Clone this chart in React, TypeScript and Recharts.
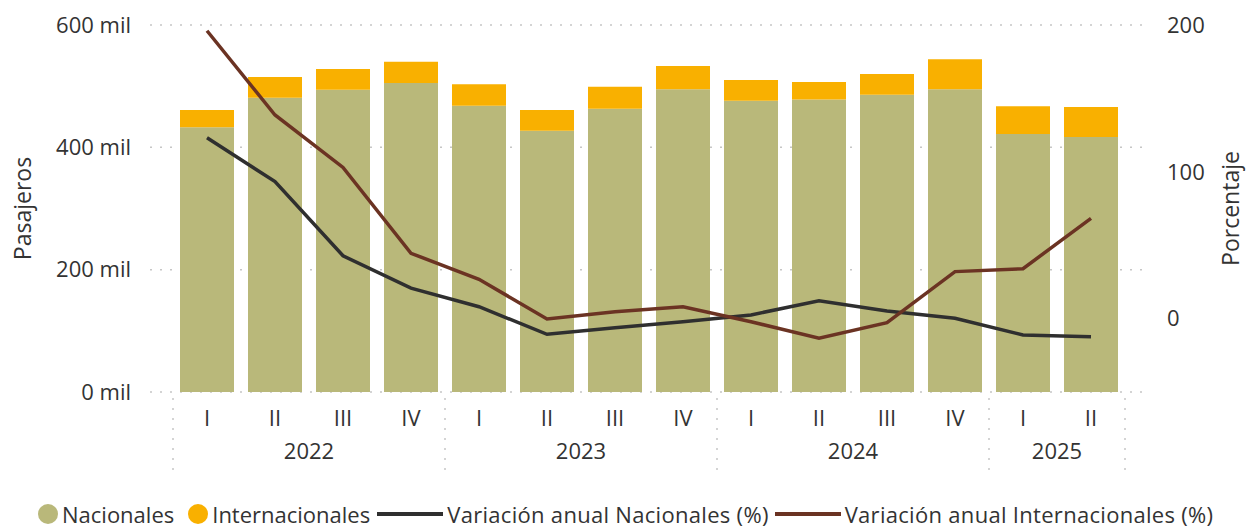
import React from 'react';
import { ComposedChart, Bar, Line, XAxis, YAxis, CartesianGrid } from 'recharts';

const quarters = ['I', 'II', 'III', 'IV', 'I', 'II', 'III', 'IV', 'I', 'II', 'III', 'IV', 'I', 'II'];
const years = ['2022', '2022', '2022', '2022', '2023', '2023', '2023', '2023', '2024', '2024', '2024', '2024', '2025', '2025'];
const nacionales = [433000, 481000, 494000, 505000, 468000, 427000, 463000, 495000, 476000, 478000, 486000, 495000, 422000, 417000];
const internacionales = [28000, 34000, 34000, 35000, 35000, 34000, 36000, 38000, 34000, 29000, 34000, 49000, 45000, 49000];
const varNacionales = [123.2, 93.3, 42.8, 20.8, 8.1, -10.7, -6.3, -2.1, 2.5, 12.2, 5.2, 0.2, -11.2, -12.3];
const varInternacionales = [196.1, 138.7, 103, 44.5, 26.8, -0.3, 4.7, 8.1, -2.1, -13.4, -2.8, 32, 34, 68.3];
const leftTicks = [0, 200000, 400000, 600000];
const rightTicks = [0, 100, 200];

const data = quarters.map((q, i) => ({
  key: `${years[i]}-${q}-${i}`,
  quarter: q,
  year: years[i],
  nacionales: nacionales[i],
  internacionales: internacionales[i],
  varNac: varNacionales[i],
  varInt: varInternacionales[i],
}));

const FONT = '"Open Sans", sans-serif';
const TEXT = '#333333';
const GREEN = '#B9B87A';
const ORANGE = '#F9B000';
const DARK = '#2F2F2F';
const BROWN = '#6B3323';
const GRID = '#C6C6C6';

const QuarterTick = (props: any) => {
  const { x, y, payload } = props;
  const d = data[props.index];
  return (
    <text x={x} y={y + 25} textAnchor="middle" dominantBaseline="central" fill={TEXT} fontSize={22} fontFamily={FONT}>
      {d ? d.quarter : payload.value}
    </text>
  );
};

const YearTick = (props: any) => {
  const { x, y, index, payload } = props;
  const half = payload && payload.offset ? payload.offset : 34;
  const d = data[index];
  if (!d) return null;
  const first = index === 0 || data[index - 1].year !== d.year;
  const last = index === data.length - 1;
  const count = data.filter((e) => e.year === d.year).length;
  const sep = (sx: number) => (
    <line x1={sx} x2={sx} y1={y - 34} y2={y + 38} stroke={GRID} strokeWidth={1.5} strokeDasharray="2 8" />
  );
  return (
    <g>
      {first && sep(x - half)}
      {last && sep(x + half)}
      {first && (
        <text x={x + (count - 1) * half} y={y + 18} textAnchor="middle" dominantBaseline="central" fill={TEXT} fontSize={22} fontFamily={FONT}>
          {d.year}
        </text>
      )}
    </g>
  );
};

const legendItems = [
  { name: 'Nacionales', color: GREEN, type: 'circle', gap: 14 },
  { name: 'Internacionales', color: ORANGE, type: 'circle', gap: 7 },
  { name: 'Variación anual Nacionales (%)', color: DARK, type: 'line', gap: 6 },
  { name: 'Variación anual Internacionales (%)', color: BROWN, type: 'line', gap: 0 },
];

const axisTitle = (text: string, dx: number) => (p: any) => {
  const vb = p.viewBox;
  const cx = vb.x + dx;
  const cy = vb.y + vb.height / 2;
  return (
    <text x={cx} y={cy} transform={`rotate(-90 ${cx} ${cy})`} textAnchor="middle" dominantBaseline="central" fill={TEXT} fontSize={23} fontFamily={FONT}>
      {text}
    </text>
  );
};

export default function App() {
  return (
    <div style={{ position: 'absolute', left: 0, top: 0, width: 1246, height: 528, background: '#fff', fontFamily: FONT }}>
      <ComposedChart width={1246} height={528} data={data} margin={{ top: 25, right: 0, left: 0, bottom: 48 }}>
        <CartesianGrid yAxisId="left" vertical={false} stroke={GRID} strokeWidth={1.5} strokeDasharray="2 8" x={150} width={996} />
        <XAxis xAxisId="q" dataKey="key" interval={0} height={40} axisLine={false} tickLine={false} tickSize={0} tickMargin={0} tick={<QuarterTick />} />
        <XAxis xAxisId="y" dataKey="key" interval={0} height={48} axisLine={false} tickLine={false} tickSize={0} tickMargin={0} tick={<YearTick />} />
        <YAxis
          yAxisId="left"
          orientation="left"
          width={173}
          domain={[0, 600000]}
          ticks={leftTicks}
          axisLine={false}
          tickLine={false}
          tickSize={0}
          tickMargin={42}
          tick={{ fill: TEXT, fontSize: 22, fontFamily: FONT }}
          tickFormatter={(v: number) => `${v / 1000} mil`}
          label={axisTitle('Pasajeros', 22)}
        />
        <YAxis
          yAxisId="right"
          orientation="right"
          width={121}
          domain={[-50, 200]}
          ticks={rightTicks}
          axisLine={false}
          tickLine={false}
          tickSize={0}
          tickMargin={42}
          tick={{ fill: TEXT, fontSize: 22, fontFamily: FONT }}
          label={axisTitle('Porcentaje', 105)}
        />
        <Bar xAxisId="q" yAxisId="left" dataKey="nacionales" name="Nacionales" stackId="a" fill={GREEN} barSize={54} isAnimationActive={false} />
        <Bar xAxisId="q" yAxisId="left" dataKey="internacionales" name="Internacionales" stackId="a" fill={ORANGE} barSize={54} isAnimationActive={false} />
        <Line xAxisId="q" yAxisId="right" type="linear" dataKey="varNac" name="Variación anual Nacionales (%)" stroke={DARK} strokeWidth={3.5} dot={false} isAnimationActive={false} />
        <Line xAxisId="q" yAxisId="right" type="linear" dataKey="varInt" name="Variación anual Internacionales (%)" stroke={BROWN} strokeWidth={3.5} dot={false} isAnimationActive={false} />
      </ComposedChart>
      <div style={{ position: 'absolute', left: 38, top: 500, height: 28, display: 'flex', alignItems: 'center', fontSize: 22, color: TEXT, whiteSpace: 'nowrap' }}>
        {legendItems.map((it) => (
          <div key={it.name} style={{ display: 'flex', alignItems: 'center', marginRight: it.gap }}>
            {it.type === 'circle' ? (
              <span style={{ width: 20, height: 20, borderRadius: 10, background: it.color, display: 'inline-block', marginRight: 4 }} />
            ) : (
              <span style={{ width: 66, height: 4, background: it.color, display: 'inline-block', marginRight: 4 }} />
            )}
            <span style={{ letterSpacing: it.type === 'line' ? 0.3 : 0 }}>{it.name}</span>
          </div>
        ))}
      </div>
    </div>
  );
}
